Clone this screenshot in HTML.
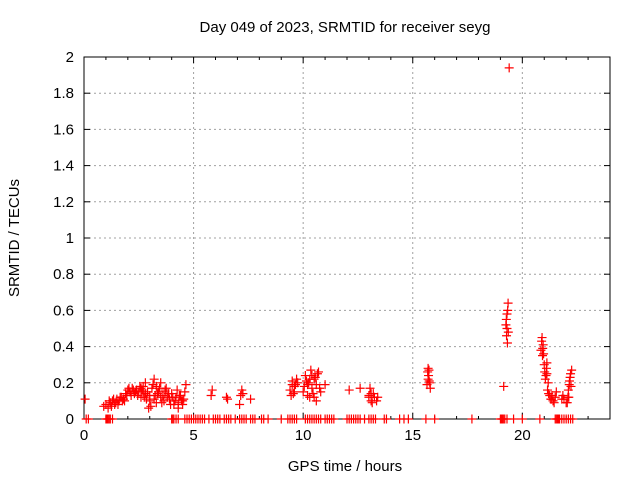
<!DOCTYPE html>
<html><head><meta charset="utf-8"><style>
body{margin:0;background:#fff;}
svg{font-family:"Liberation Sans",sans-serif;font-size:15px;}
</style></head><body>
<svg id="chart" width="640" height="480">
<text x="345" y="32" text-anchor="middle">Day 049 of 2023, SRMTID for receiver seyg</text>
<text x="345" y="471" text-anchor="middle">GPS time / hours</text>
<text transform="translate(19,238) rotate(-90)" text-anchor="middle">SRMTID / TECUs</text>
<g id="grid"></g><g id="axes"></g><g id="pts"></g>
</svg>
<script>
const xTicks=[0,5,10,15,20];
const yTicks=[0,0.2,0.4,0.6,0.8,1,1.2,1.4,1.6,1.8,2];
const yTickLabels=["0","0.2","0.4","0.6","0.8","1","1.2","1.4","1.6","1.8","2"];
const times=[0.05,0.9,1.0,1.1,1.2,1.3,1.4,1.5,1.6,1.7,1.8,1.9,2.0,2.1,2.2,2.3,2.4,2.5,2.6,2.7,2.75,2.8,2.9,3.0,3.1,3.2,3.25,3.3,3.4,3.5,3.6,3.7,3.8,3.9,4.0,4.1,4.2,4.3,4.4,4.5,4.6,4.65,
5.8,5.85,6.5,6.55,7.1,7.15,7.2,7.25,7.6,9.4,9.5,9.55,9.6,9.7,10.0,10.1,10.2,10.3,10.35,10.4,10.5,10.6,10.7,10.8,11.0,12.1,12.6,13.0,13.05,13.1,13.2,13.4,
15.65,15.7,15.72,15.75,15.8,19.15,19.25,19.28,19.3,19.32,19.35,19.4,20.85,20.9,20.95,21.0,21.05,21.1,21.15,21.2,21.3,21.35,21.4,21.5,21.8,21.85,22.05,22.1,22.15,22.2,22.25,
2.45,2.65,2.85,3.05,3.35,3.55,3.75,1.55,1.75,10.25,10.45,10.55,9.65,20.92,21.12,22.12,13.15,4.25,4.45];
const values=[0.11,0.07,0.08,0.06,0.09,0.1,0.08,0.11,0.1,0.12,0.11,0.14,0.16,0.15,0.17,0.14,0.16,0.15,0.17,0.18,0.12,0.2,0.15,0.1,0.17,0.22,0.13,0.18,0.15,0.2,0.13,0.16,0.12,0.11,0.14,0.08,0.12,0.06,0.13,0.1,0.15,0.19,
0.13,0.16,0.12,0.11,0.08,0.13,0.16,0.14,0.11,0.16,0.21,0.14,0.18,0.22,0.15,0.24,0.19,0.12,0.27,0.17,0.22,0.1,0.26,0.15,0.19,0.16,0.17,0.12,0.17,0.1,0.14,0.12,
0.19,0.28,0.24,0.21,0.17,0.18,0.52,0.46,0.58,0.42,0.64,1.94,0.38,0.45,0.41,0.3,0.22,0.28,0.16,0.14,0.11,0.13,0.1,0.12,0.11,0.13,0.09,0.16,0.21,0.25,0.27,
0.13,0.16,0.11,0.07,0.14,0.09,0.17,0.08,0.1,0.2,0.14,0.23,0.19,0.35,0.25,0.12,0.09,0.16,0.1];
const times2=[1.15,1.25,1.35,1.45,1.65,1.85,1.95,2.05,2.15,2.25,2.35,2.55,2.6,2.7,2.8,2.95,3.0,3.15,3.2,3.3,3.45,3.5,3.65,3.7,3.85,3.95,4.05,4.15,4.3,4.35,4.5,4.55,
9.45,9.5,9.6,9.75,10.05,10.15,10.2,10.3,10.4,10.5,10.6,10.65,10.75,15.68,15.7,15.74,15.78,19.27,19.3,19.33,19.36,20.88,20.93,20.97,21.02,21.08,21.12,21.18,21.25,21.32,21.45,21.55,21.9,22.0,22.08,22.14,22.18,22.22,13.0,13.1,13.25,13.35];
const values2=[0.1,0.07,0.11,0.09,0.12,0.1,0.13,0.17,0.13,0.16,0.15,0.18,0.12,0.15,0.14,0.06,0.13,0.19,0.11,0.09,0.17,0.12,0.1,0.15,0.14,0.08,0.12,0.1,0.09,0.13,0.08,0.11,
0.13,0.19,0.15,0.2,0.18,0.21,0.13,0.22,0.24,0.12,0.19,0.25,0.17,0.26,0.22,0.27,0.2,0.55,0.5,0.6,0.48,0.43,0.39,0.36,0.26,0.24,0.31,0.2,0.13,0.11,0.09,0.15,0.11,0.09,0.12,0.19,0.23,0.18,0.13,0.14,0.12,0.1];
const zeroTimes=[0.1,0.2,1.0,1.1,1.2,1.3,4.0,4.1,4.3,4.6,4.7,4.9,5.0,5.2,5.3,5.5,5.7,5.9,6.0,6.2,6.4,6.5,6.7,6.9,7.1,7.3,7.4,7.6,7.8,8.1,8.2,8.4,9.0,9.3,9.5,9.7,10.1,10.3,10.4,10.6,10.8,11.0,11.2,11.4,12.0,12.2,12.4,12.6,12.8,13.0,13.1,13.3,13.7,13.8,14.4,14.6,14.8,15.6,16.0,17.7,19.0,19.1,19.2,19.3,19.6,20.0,20.8,21.5,21.6,21.7,21.9,22.0,22.3,1.05,1.15,4.05,4.2,4.8,5.1,5.4,6.1,6.6,7.2,7.7,9.4,9.6,10.2,10.5,10.7,11.1,11.3,12.1,12.3,12.5,13.2,19.05,19.15,21.55,21.65,21.8,22.1,22.2];
const X0=84,X1=610,Y0=419,Y1=57;
const xs=h=>X0+h*(X1-X0)/24, ys=v=>Y0-v*(Y0-Y1)/2;
const NS="http://www.w3.org/2000/svg";
function mk(tag,attrs,parent){const e=document.createElementNS(NS,tag);for(const k in attrs)e.setAttribute(k,attrs[k]);parent.appendChild(e);return e;}
const grid=document.getElementById('grid'),axes=document.getElementById('axes'),pts=document.getElementById('pts');
xTicks.forEach(t=>{const x=xs(t);
 if(t>0){const l=mk('line',{x1:x,x2:x,y1:Y1,y2:Y0,stroke:'#a0a0a0','stroke-dasharray':'2,3'},grid);
 
 }
 mk('line',{x1:x,x2:x,y1:Y0,y2:Y0-6,stroke:'#000'},axes);mk('line',{x1:x,x2:x,y1:Y1,y2:Y1+6,stroke:'#000'},axes);
 const tx=mk('text',{x:x,y:Y0+21,'text-anchor':'middle'},axes);tx.textContent=t;
 
 });
yTicks.forEach((t,i)=>{const y=ys(t);
 if(t>0&&t<2){const l=mk('line',{x1:X0,x2:X1,y1:y,y2:y,stroke:'#a0a0a0','stroke-dasharray':'2,3'},grid);
 
 }
 mk('line',{x1:X0,x2:X0+6,y1:y,y2:y,stroke:'#000'},axes);mk('line',{x1:X1,x2:X1-6,y1:y,y2:y,stroke:'#000'},axes);
 const tx=mk('text',{x:X0-10,y:y+5,'text-anchor':'end'},axes);tx.textContent=yTickLabels[i];
 
 });
for(let h=1;h<24;h++){if(h%5){const x=xs(h);mk('line',{x1:x,x2:x,y1:Y0,y2:Y0-3,stroke:'#000'},axes);mk('line',{x1:x,x2:x,y1:Y1,y2:Y1+3,stroke:'#000'},axes);}}
const fr=mk('rect',{x:X0,y:Y1,width:X1-X0,height:Y0-Y1,fill:'none',stroke:'#000'},axes);


function plus(h,v){const x=xs(h),y=ys(v);
 const p=mk('path',{d:`M${x-4.5},${y}H${x+4.5}M${x},${y-4.5}V${y+4.5}`,stroke:'#f00','stroke-width':1.2},pts);
 
 }
times.forEach((h,i)=>plus(h,values[i]));
times2.forEach((h,i)=>plus(h,values2[i]));
zeroTimes.forEach(h=>plus(h,0));
</script>
</body></html>
